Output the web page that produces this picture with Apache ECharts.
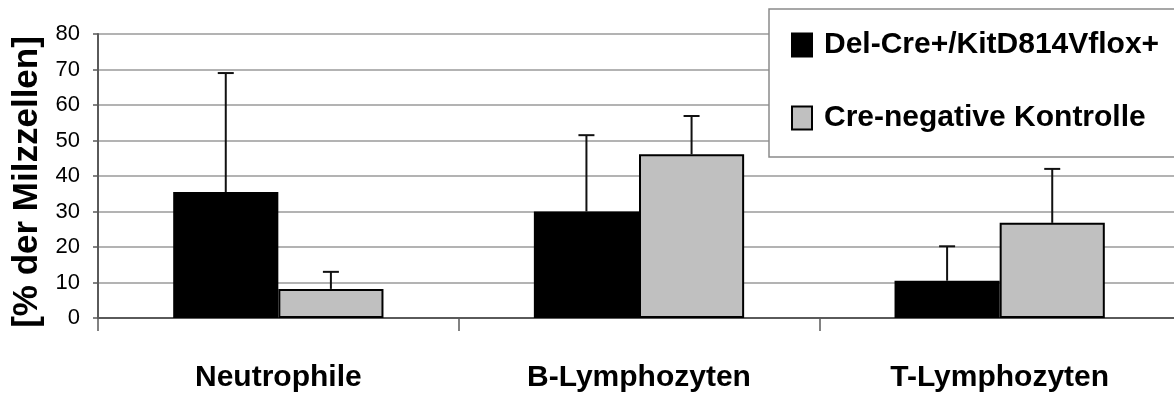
<!DOCTYPE html>
<html>
<head>
<meta charset="utf-8">
<script src="https://cdn.jsdelivr.net/npm/echarts@6/dist/echarts.min.js"></script>
<style>
  html, body { margin: 0; padding: 0; background: #fff; }
  #chart { width: 1174px; height: 396px; }
</style>
</head>
<body>
<div id="chart"></div>
<script>
// Cell populations in the spleen, mean with upper standard deviation
const categories = ['Neutrophile', 'B-Lymphozyten', 'T-Lymphozyten'];
const seriesNames = ['Del-Cre+/KitD814Vflox+', 'Cre-negative Kontrolle'];
const mutantValues = [35.5, 30, 10.5];
const mutantErrors = [33.5, 21.5, 9.7];
const controlValues = [8.2, 46.1, 26.8];
const controlErrors = [4.8, 10.8, 15.2];
const yTicks = [0, 10, 20, 30, 40, 50, 60, 70, 80];

const FONT = '"Liberation Sans", Arial, sans-serif';
const CATEGORY_GAP = 0.417;

// Upward error whiskers, shifted onto the left or right bar of each group
function errorRenderer(values, errors, side) {
  return function (params, api) {
    const i = api.value(0);
    const band = api.size([1, 0])[0];
    const barW = band * (1 - CATEGORY_GAP) / 2;
    const base = api.coord([i, values[i]]);
    const top = api.coord([i, values[i] + errors[i]]);
    const x = base[0] + side * barW / 2;
    const cap = 8;
    const style = { stroke: '#111', lineWidth: 2 };
    return {
      type: 'group',
      children: [
        { type: 'line', shape: { x1: x, y1: base[1], x2: x, y2: top[1] }, style: style },
        { type: 'line', shape: { x1: x - cap, y1: top[1], x2: x + cap, y2: top[1] }, style: style }
      ]
    };
  };
}

const chart = echarts.init(document.getElementById('chart'), null, { renderer: 'canvas' });

chart.setOption({
  animation: false,
  backgroundColor: '#fff',
  // the plot area runs a little past the right edge of the canvas
  grid: { left: 98, right: -6, top: 34, bottom: 78, containLabel: false, outerBoundsMode: 'none' },
  legend: {
    orient: 'vertical',
    left: 769,
    top: 9,
    padding: [21, 40, 24, 22],
    itemGap: 43,
    itemWidth: 20,
    itemHeight: 23,
    backgroundColor: '#fff',
    borderColor: '#8a8a8a',
    borderWidth: 1.5,
    borderRadius: 0,
    icon: 'rect',
    data: seriesNames,
    textStyle: {
      fontFamily: FONT,
      fontWeight: 'bold',
      fontSize: 30,
      color: '#000',
      padding: [0, 0, 0, 7]
    }
  },
  xAxis: {
    type: 'category',
    data: categories,
    boundaryGap: true,
    axisLine: { lineStyle: { color: '#5a5a5a', width: 2 } },
    axisTick: { show: true, length: 13, alignWithLabel: false, lineStyle: { color: '#5a5a5a', width: 1.5 } },
    axisLabel: {
      margin: 45,
      fontFamily: FONT,
      fontWeight: 'bold',
      fontSize: 30,
      color: '#000'
    }
  },
  yAxis: {
    type: 'value',
    min: yTicks[0],
    max: yTicks[yTicks.length - 1],
    interval: 10,
    name: '[% der Milzzellen]',
    nameLocation: 'middle',
    nameGap: 50,
    nameRotate: 90,
    nameTextStyle: {
      fontFamily: FONT,
      fontWeight: 'bold',
      fontSize: 35,
      color: '#000',
      padding: [0, 12, 0, 0]
    },
    axisLine: { show: true, lineStyle: { color: '#5a5a5a', width: 2 } },
    axisTick: { show: true, length: 5, lineStyle: { color: '#5a5a5a', width: 1.5 } },
    axisLabel: {
      margin: 18,
      fontFamily: FONT,
      fontSize: 22,
      color: '#000'
    },
    splitLine: { show: true, lineStyle: { color: '#9a9a9a', width: 1.5 } }
  },
  series: [
    {
      name: seriesNames[0],
      type: 'bar',
      data: mutantValues,
      barGap: '0%',
      barCategoryGap: (CATEGORY_GAP * 100) + '%',
      itemStyle: { color: '#000', borderColor: '#000', borderWidth: 2 }
    },
    {
      name: seriesNames[1],
      type: 'bar',
      data: controlValues,
      barGap: '0%',
      barCategoryGap: (CATEGORY_GAP * 100) + '%',
      itemStyle: { color: '#c0c0c0', borderColor: '#000', borderWidth: 2 }
    },
    {
      type: 'custom',
      name: 'err-mutant',
      data: categories.map((c, i) => [i]),
      renderItem: errorRenderer(mutantValues, mutantErrors, -1),
      z: 3
    },
    {
      type: 'custom',
      name: 'err-control',
      data: categories.map((c, i) => [i]),
      renderItem: errorRenderer(controlValues, controlErrors, 1),
      z: 3
    }
  ]
});
</script>
</body>
</html>
